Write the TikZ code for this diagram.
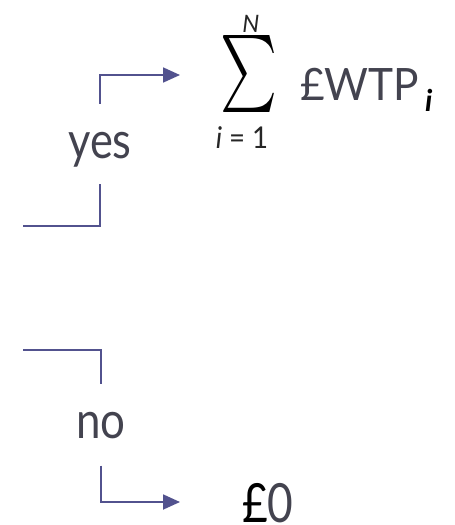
\documentclass[tikz,border=0pt]{standalone}
\usepackage{fontspec}
\usepackage{graphicx}
\setmainfont{Lato}
\usetikzlibrary{arrows.meta}
\definecolor{txt}{HTML}{43434F}
\definecolor{flow}{HTML}{52528E}
% narrow a piece of text horizontally
\newcommand{\narrow}[2]{\scalebox{#1}[1]{#2}}
\tikzset{
  word/.style={inner sep=0pt, text=txt, anchor=base},
  branch/.style={draw=flow, line width=1.8pt},
  arrowline/.style={branch, -{Triangle[length=17pt, width=15pt]}},
}
\begin{document}
\begin{tikzpicture}[x=1pt, y=-1pt]
  \useasboundingbox (0,0) rectangle (455,525);

  % decision labels
  \node[word, font=\fontsize{51}{51}\selectfont] (yes) at (100,158) {\narrow{0.85}{yes}};
  \node[word, font=\fontsize{51}{51}\selectfont] (no) at (101,438) {\narrow{0.86}{no}};

  % outcome: sum of individual WTP
  \node[inner sep=0pt] (sigma) at (248.5,73.5) {\resizebox*{57pt}{77pt}{$\sum$}};
  \node[word, text=black!85, font=\fontsize{24}{24}\selectfont\itshape] (upper) at (251,32) {N};
  \node[word, text=black!85, font=\fontsize{30}{30}\selectfont] (lower) at (242,148) {\narrow{0.92}{\textit{i} = 1}};
  \node[word, anchor=base west, font=\fontsize{44.6}{44.6}\selectfont] (wtp) at (300,100) {\narrow{0.95}{£WTP}};
  \node[word, anchor=base west, text=black, font=\fontsize{30}{30}\selectfont\bfseries\itshape] (sub) at (425,111) {i};

  % outcome: nothing
  \node[word, anchor=base west, font=\fontsize{54}{54}\selectfont] (zero) at (242,522) {\narrow{0.82}{\textcolor{black}{£}0}};

  % branch ends
  \coordinate (yesin) at (23,226);
  \coordinate (noin) at (23,350);
  \coordinate (sumin) at (180,75);
  \coordinate (zeroin) at (180,502);

  % connectors
  \draw[branch] (yesin) -| ([yshift=-17pt]yes.south);
  \draw[arrowline] ([yshift=28pt]yes.north) |- (sumin);
  \draw[branch] (noin) -| ([yshift=28pt]no.north);
  \draw[arrowline] ([yshift=-27pt]no.south) |- (zeroin);
\end{tikzpicture}
\end{document}
